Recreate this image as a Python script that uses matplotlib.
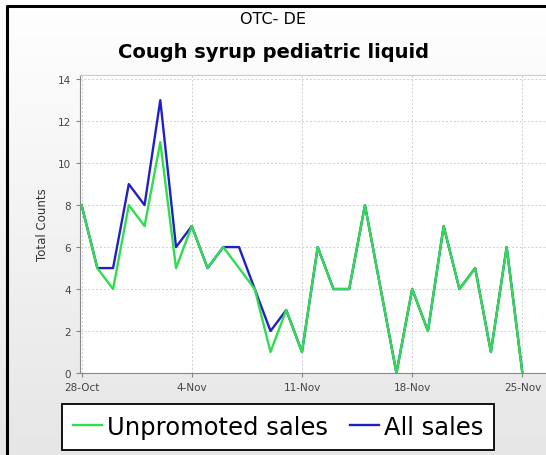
import datetime as dt
import numpy as np
import matplotlib
matplotlib.use('Agg')
import matplotlib.pyplot as plt
import matplotlib.dates as mdates

# daily counts, 28-Oct .. 25-Nov
start = dt.date(2012, 10, 28)
days = [start + dt.timedelta(days=i) for i in range(29)]
all_sales = [8, 5, 5, 9, 8, 13, 6, 7, 5, 6, 6, 4, 2, 3, 1, 6, 4, 4, 8, 4,
             0, 4, 2, 7, 4, 5, 1, 6, 0]
unpromoted = [8, 5, 4, 8, 7, 11, 5, 7, 5, 6, 5, 4, 1, 3, 1, 6, 4, 4, 8, 4,
              0, 4, 2, 7, 4, 5, 1, 6, 0]
tick_days = [start + dt.timedelta(days=7 * k) for k in range(5)]

fig = plt.figure(figsize=(5.46, 4.56), dpi=100)

# background gradient + border
bg = fig.add_axes([0, 0, 1, 1], zorder=-10)
grad = np.linspace(0, 1, 256).reshape(-1, 1)
bg.imshow(grad, aspect='auto', cmap=matplotlib.colors.LinearSegmentedColormap.from_list(
    'g', ['#ffffff', '#e6e6e6']), extent=[0, 1, 0, 1])
bg.set_xlim(0, 1)
bg.set_ylim(0, 1)
bg.axis('off')
bg.plot([6.5 / 546, 6.5 / 546, 1], [0, 1 - 7 / 456, 1 - 7 / 456], color='black', lw=2.2)

ax = fig.add_axes([80 / 546, 1 - 374 / 456, 466 / 546, 298 / 456])
ax.set_facecolor('white')
ax.plot(days, all_sales, color='#2020c8', lw=1.7, label='All sales')
ax.plot(days, unpromoted, color='#30dd50', lw=1.7, label='Unpromoted sales')

ax.set_xlim(mdates.date2num(start) - 0.1, mdates.date2num(start) + 29.5)
ax.set_ylim(0, 14.2)
ax.set_yticks(range(0, 15, 2))
ax.set_xticks(tick_days)
ax.xaxis.set_major_formatter(mdates.DateFormatter('%-d-%b'))
ax.grid(True, color='#d0d0d0', ls=(0, (2, 2)), lw=0.7)
ax.tick_params(labelsize=7.5, labelcolor='#444444', color='#888888', length=3)
for s in ['left', 'bottom']:
    ax.spines[s].set_color('#888888')
ax.spines['top'].set_color('#cccccc')
ax.spines['right'].set_visible(False)
ax.set_ylabel('Total Counts', fontsize=8.5, color='#333333', labelpad=6)

fig.text(0.5, 1 - 20 / 456, 'OTC- DE', ha='center', va='center', fontsize=11.5)
fig.text(0.5, 1 - 52 / 456, 'Cough syrup pediatric liquid', ha='center', va='center',
         fontsize=14, fontweight='bold')

h, l = ax.get_legend_handles_labels()
leg = fig.legend(h[::-1], l[::-1], loc='upper left', bbox_to_anchor=(62 / 546, 1 - 405 / 456),
                 ncol=2, fontsize=17.5, frameon=True, fancybox=False, handlelength=1.2,
                 handletextpad=0.2, columnspacing=0.9, borderpad=0.45, borderaxespad=0)
leg.get_frame().set_edgecolor('black')
leg.get_frame().set_linewidth(1.3)
leg.get_frame().set_facecolor('white')
leg.get_frame().set_alpha(1)

fig.savefig('out.png', dpi=100)
